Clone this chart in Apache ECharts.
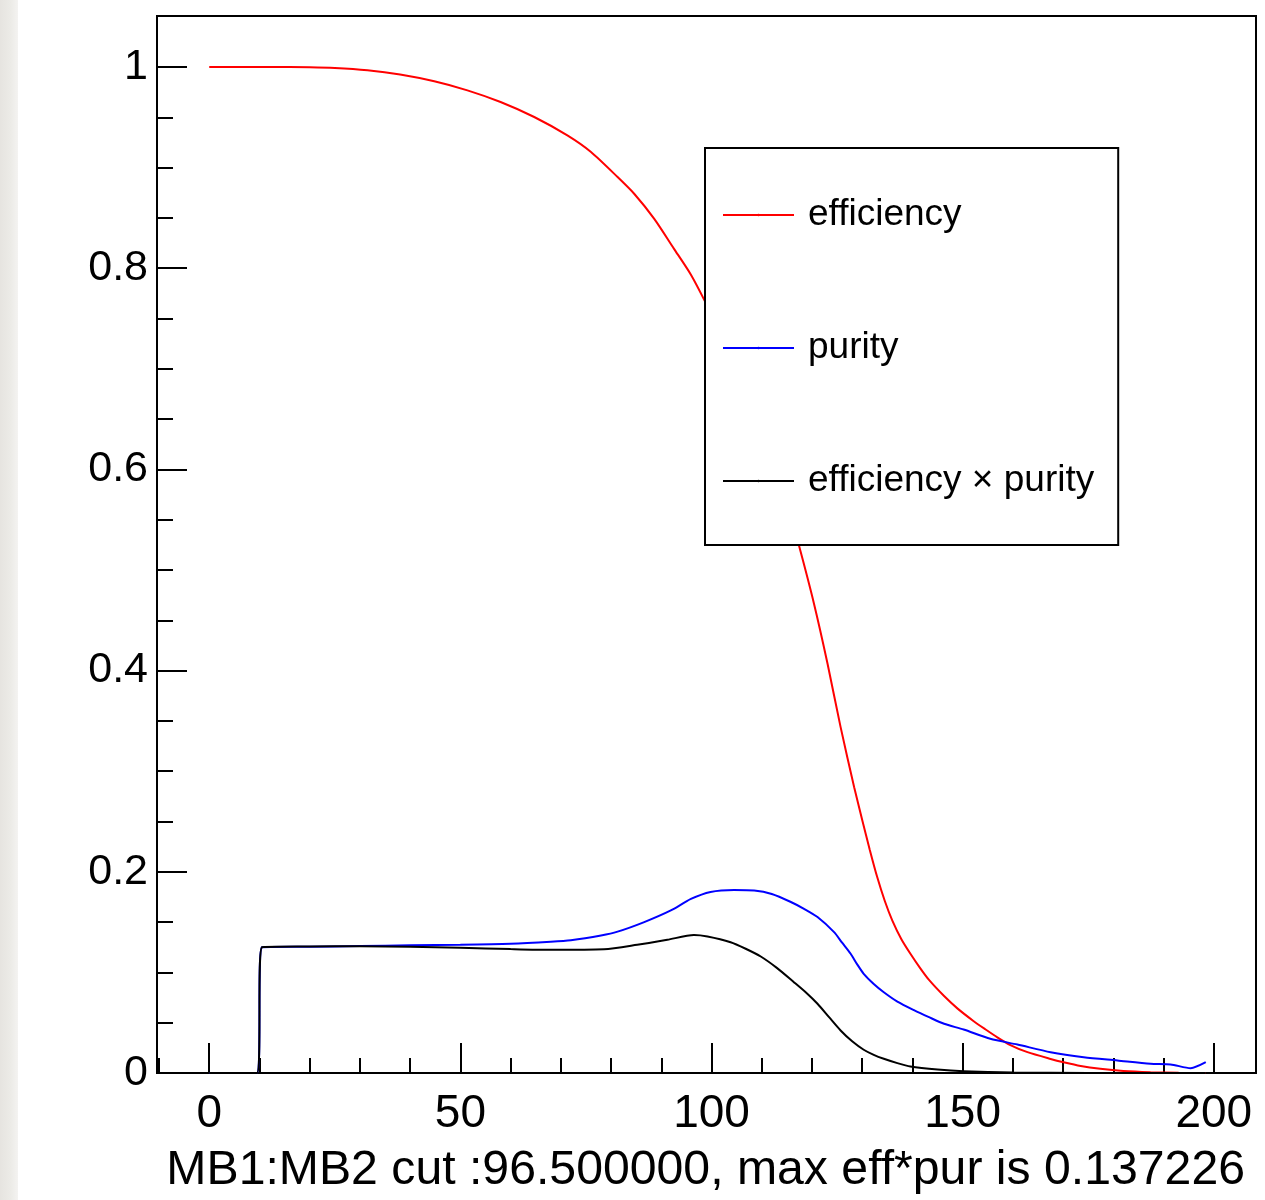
<!DOCTYPE html>
<html><head><meta charset="utf-8">
<script src="https://cdn.jsdelivr.net/npm/echarts@6/dist/echarts.min.js"></script>
<style>
html,body{margin:0;padding:0;background:#fff;}
#strip{position:absolute;left:0;top:0;width:18px;height:1200px;background:linear-gradient(to right,#e6e4e0 0%,#ecebe7 60%,#f4f3f1 100%);}
#chart{position:absolute;left:0;top:0;width:1265px;height:1200px;}
</style></head><body>
<div id="strip"></div><div id="chart"></div>
<script>
const xMajorTicks = [0, 50, 100, 150, 200];
const xMinorTicks = [-10, 10, 20, 30, 40, 60, 70, 80, 90, 110, 120, 130, 140, 160, 170, 180, 190];
const yMajorTicks = [0, 0.2, 0.4, 0.6, 0.8, 1];
const yMinorTicks = [0.05, 0.1, 0.15, 0.25, 0.3, 0.35, 0.45, 0.5, 0.55, 0.65, 0.7, 0.75, 0.85, 0.9, 0.95, 1.0];
const seriesNames = ['efficiency', 'purity', 'efficiency \u00d7 purity'];
const xTitle = 'MB1:MB2 cut :96.500000, max eff*pur is 0.137226';

const efficiency = [
  [0, 1.0], [12, 1.0], [20, 0.9997], [25, 0.999], [31.5, 0.9967], [38, 0.9925], [44.8, 0.9858],
  [51.4, 0.9768], [58, 0.9652], [64.7, 0.9503], [71.3, 0.932], [76, 0.9155], [81.3, 0.8906],
  [84.6, 0.874], [88.6, 0.849], [92.5, 0.8195], [95.9, 0.7935], [98.8, 0.766], [102, 0.733],
  [106, 0.690], [110, 0.642], [114, 0.586], [117.4, 0.5245], [120.4, 0.4665], [123.1, 0.4068],
  [125.7, 0.3438], [128.4, 0.2841], [130, 0.2515], [131.5, 0.222], [133, 0.1945], [134.5, 0.171],
  [136, 0.1515], [137.8, 0.133], [139.6, 0.1185], [141.5, 0.1045], [143.3, 0.0925], [146.3, 0.0765],
  [149, 0.064], [152.2, 0.0515], [154.5, 0.0435], [156.9, 0.0355], [159.5, 0.0278], [162.9, 0.0207],
  [167.5, 0.014], [170.1, 0.0107], [173.5, 0.007], [177.4, 0.0042], [182, 0.002], [187.4, 0.0008],
  [193, 0.0002], [198.4, 0.0]
];
const purity = [
  [0, 0], [9.5, 0], [10.5, 0.125], [20, 0.1255], [30, 0.1262], [40, 0.127], [50, 0.1275],
  [60, 0.1285], [68, 0.1305], [72, 0.132], [78, 0.1367], [81.3, 0.1405], [86.6, 0.150],
  [91.9, 0.1616], [95.9, 0.173], [99.8, 0.180], [104.5, 0.182], [108.5, 0.1815], [112, 0.178],
  [115.8, 0.170], [118.5, 0.163], [121.1, 0.155], [124.4, 0.140], [126, 0.1295], [127.7, 0.1185],
  [129, 0.108], [130.3, 0.0986], [132.3, 0.0885], [134.3, 0.0803], [137, 0.071], [140.3, 0.0625],
  [143.3, 0.0555], [146.3, 0.0489], [150.2, 0.0432], [155.5, 0.034], [160.9, 0.0283], [167.5, 0.0207],
  [174.1, 0.0157], [180.8, 0.0124], [187.4, 0.0091], [191.4, 0.0085], [195.4, 0.0048], [198.4, 0.0107]
];
const effTimesPurity = [
  [0, 0], [9.5, 0], [10.5, 0.125], [20, 0.1257], [30, 0.126], [40, 0.1255], [50, 0.1245],
  [60, 0.1232], [68, 0.1225], [78.6, 0.123], [85.2, 0.1274], [91.2, 0.1324], [96.5, 0.1372],
  [99.2, 0.1357], [103.8, 0.130], [106.8, 0.1235], [109.8, 0.1158], [113, 0.1045], [116.4, 0.0903],
  [118.8, 0.080], [121.1, 0.0688], [123.4, 0.0555], [125.7, 0.0423], [128, 0.0315], [130.3, 0.0231],
  [132.3, 0.018], [134.3, 0.0141], [137, 0.0098], [139.6, 0.0065], [145, 0.0035], [150.2, 0.0018],
  [160, 0.0005], [175, 0.0001], [198.4, 0]
];

const FONT = '"Liberation Sans", Arial, Helvetica, sans-serif';
const X_MIN = -10.4, X_MAX = 208.4, Y_MIN = 0, Y_MAX = 1.0507;

const chart = echarts.init(document.getElementById('chart'), null, {renderer: 'canvas'});
const lineSeries = (name, data, color) => ({
  name, type: 'line', data, xAxisIndex: 0, yAxisIndex: 0,
  symbol: 'none', smooth: 0.25,
  lineStyle: {color, width: 2}, itemStyle: {color},
  emphasis: {disabled: true}, animation: false, clip: true
});

chart.setOption({
  animation: false,
  grid: {left: 157, top: 16, width: 1099, height: 1057, show: true, borderColor: '#000', borderWidth: 2, backgroundColor: 'transparent'},
  title: {
    text: xTitle, right: 20, top: 1147, padding: 0,
    textStyle: {fontSize: 48.2, fontWeight: 'normal', fontFamily: FONT, color: '#000'}
  },
  legend: {
    data: seriesNames, orient: 'vertical', left: 705, top: 148,
    padding: [47, 24, 44, 17], itemWidth: 71, itemHeight: 3, itemGap: 93,
    selectedMode: false, backgroundColor: '#fff', borderColor: '#000', borderWidth: 2,
    textStyle: {fontSize: 37, fontFamily: FONT, color: '#000', lineHeight: 40, padding: [0, 0, 0, 9]}
  },
  xAxis: [
    {
      type: 'value', min: X_MIN, max: X_MAX, position: 'bottom',
      axisLine: {show: true, onZero: false, lineStyle: {color: '#000', width: 2}},
      axisTick: {show: true, inside: true, length: 30, customValues: xMajorTicks, lineStyle: {color: '#000', width: 2}},
      axisLabel: {show: true, customValues: xMajorTicks, fontSize: 46, fontFamily: FONT, color: '#000', margin: 18},
      splitLine: {show: false}
    },
    {
      type: 'value', min: X_MIN, max: X_MAX, position: 'bottom', offset: 0,
      axisLine: {show: false, onZero: false},
      axisTick: {show: true, inside: true, length: 15, customValues: xMinorTicks, lineStyle: {color: '#000', width: 2}},
      axisLabel: {show: false},
      splitLine: {show: false}
    }
  ],
  yAxis: [
    {
      type: 'value', min: Y_MIN, max: Y_MAX, position: 'left',
      axisLine: {show: true, onZero: false, lineStyle: {color: '#000', width: 2}},
      axisTick: {show: true, inside: true, length: 30, customValues: yMajorTicks, lineStyle: {color: '#000', width: 2}},
      axisLabel: {show: true, customValues: yMajorTicks, fontSize: 43, fontFamily: FONT, color: '#000', margin: 9,
        formatter: v => String(Math.round(v * 10) / 10)},
      splitLine: {show: false}
    },
    {
      type: 'value', min: Y_MIN, max: Y_MAX, position: 'left', offset: 0,
      axisLine: {show: false, onZero: false},
      axisTick: {show: true, inside: true, length: 16, customValues: yMinorTicks, lineStyle: {color: '#000', width: 2}},
      axisLabel: {show: false},
      splitLine: {show: false}
    }
  ],
  series: [
    lineSeries(seriesNames[0], efficiency, '#ff0000'),
    lineSeries(seriesNames[1], purity, '#0000ff'),
    lineSeries(seriesNames[2], effTimesPurity, '#000000')
  ]
});
</script>
</body></html>
